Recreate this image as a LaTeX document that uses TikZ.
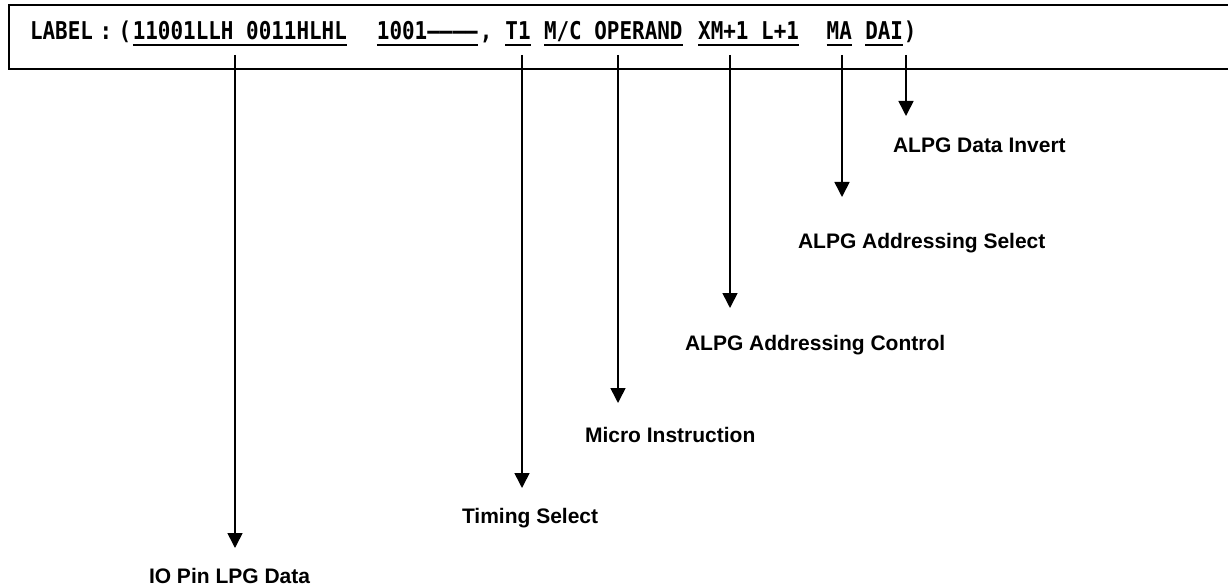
\documentclass[tikz,border=0pt]{standalone}
\usepackage{fontspec}
\usetikzlibrary{arrows.meta}
\newfontfamily\monof[FakeStretch=0.854]{DejaVu Sans Mono}
\newfontfamily\labf{Liberation Sans}
\tikzset{
  seg/.style={anchor=base west, inner sep=0pt, outer sep=0pt, font=\monof\bfseries\fontsize{24.5}{24.5}\selectfont},
  lbl/.style={anchor=base west, inner sep=0pt, outer sep=0pt, font=\labf\bfseries\fontsize{21}{21}\selectfont},
  arr/.style={line width=1.6pt, -{Triangle[width=15pt,length=15pt]}},
  ul/.style={line width=1.5pt},
  frame/.style={line width=1.6pt}
}
\begin{document}
\begin{tikzpicture}[x=1pt,y=-1pt]
\useasboundingbox (0,0) rectangle (1228,588);
% frame, open to the right
\coordinate (ftr) at (1240,5);
\coordinate (ftl) at (9,5);
\coordinate (fbl) at (9,69);
\coordinate (fbr) at (1240,69);
\draw[frame] (ftr) -- (ftl) -- (fbl) -- (fbr);
% label line
\def\pp{12.85}
\def\xo{30}
\node[seg] (lab) at (\xo,40) {LABEL\makebox[25.7pt]{:}(};
\node[seg] (u1) at ({\xo+8*\pp},40) {11001LLH 0011HLHL};
\node[seg] (u2) at ({\xo+27*\pp},40) {1001––––};
\node[seg] (cm) at ({\xo+35*\pp},40) {,};
\node[seg] (u3) at ({\xo+37*\pp},40) {T1};
\node[seg] (u4) at ({\xo+40*\pp},40) {M/C OPERAND};
\node[seg] (u5) at ({\xo+52*\pp},40) {XM+1 L+1};
\node[seg] (u6) at ({\xo+62*\pp},40) {MA};
\node[seg] (u7) at ({\xo+65*\pp},40) {DAI};
\node[seg] (rp) at ({\xo+68*\pp},40) {)};
\foreach \u in {u1,u2,u3,u4,u5,u6,u7}{
  \draw[ul] ([yshift=-5pt]\u.base west) -- ([yshift=-5pt]\u.base east);
}
% labels
\node[lbl] (lio) at (149,583) {IO Pin LPG Data};
\node[lbl] (lts) at (462,523) {Timing Select};
\node[lbl] (lmi) at (585,442) {Micro Instruction};
\node[lbl] (lac) at (685,350) {ALPG Addressing Control};
\node[lbl] (las) at (798,248) {ALPG Addressing Select};
\node[lbl] (ldi) at (893,153) {ALPG Data Invert};
% arrow ends
\coordinate (sio) at (235,55);  \coordinate (eio) at (235,548);
\coordinate (sts) at (522,55);  \coordinate (ets) at (522,488);
\coordinate (smi) at (618,55);  \coordinate (emi) at (618,403);
\coordinate (sac) at (730,55);  \coordinate (eac) at (730,308);
\coordinate (sas) at (842,55);  \coordinate (eas) at (842,197);
\coordinate (sdi) at (906,55);  \coordinate (edi) at (906,116);
\draw[arr] (sio) -- (eio);
\draw[arr] (sts) -- (ets);
\draw[arr] (smi) -- (emi);
\draw[arr] (sac) -- (eac);
\draw[arr] (sas) -- (eas);
\draw[arr] (sdi) -- (edi);
\end{tikzpicture}
\end{document}
